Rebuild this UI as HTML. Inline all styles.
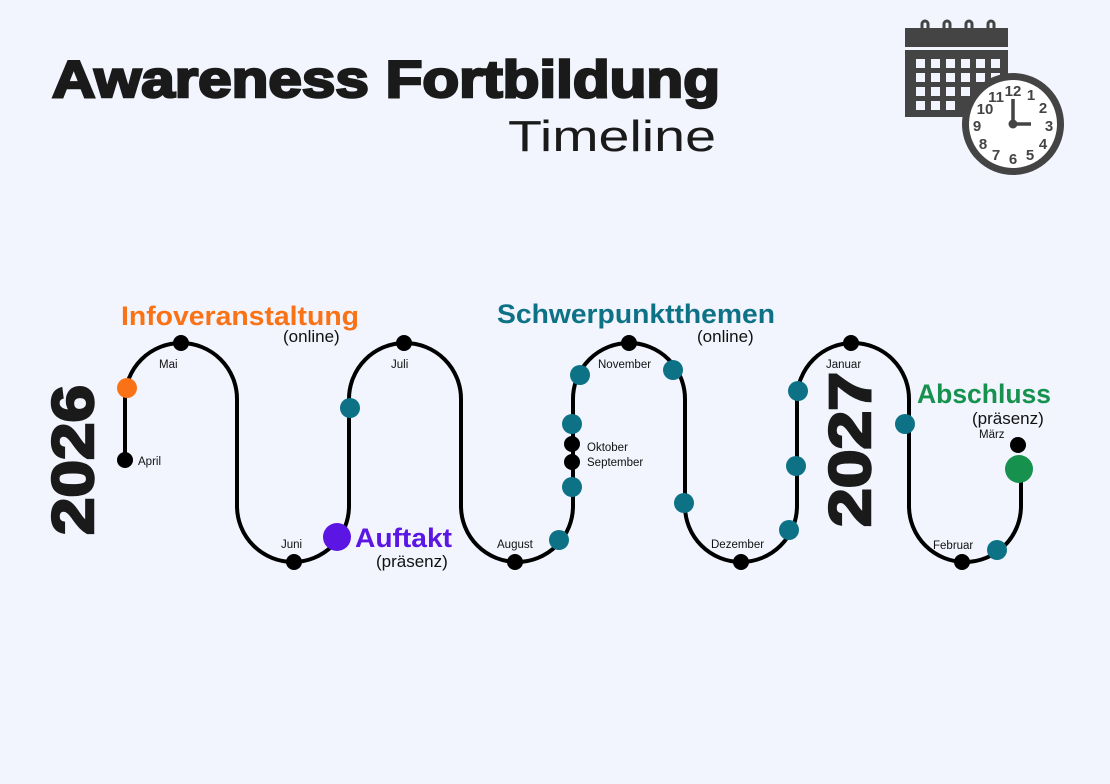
<!DOCTYPE html>
<html><head><meta charset="utf-8"><style>
html,body{margin:0;padding:0;background:#f2f5fe;}
svg{display:block}
</style></head><body>
<svg width="1110" height="784" viewBox="0 0 1110 784" xmlns="http://www.w3.org/2000/svg" font-family="Liberation Sans, sans-serif">
<rect width="1110" height="784" fill="#f2f5fe"/>
<text x="52" y="97" font-size="52" font-weight="900" fill="#1a1a1a" textLength="668" lengthAdjust="spacingAndGlyphs" stroke="#1a1a1a" stroke-width="2.5">Awareness Fortbildung</text>
<text x="716" y="151" font-size="44" fill="#1a1a1a" text-anchor="end" textLength="208" lengthAdjust="spacingAndGlyphs">Timeline</text>

<!-- calendar icon -->
<g fill="#444">
<rect x="905" y="28" width="103" height="19"/>
<rect x="905" y="50" width="103" height="67"/>
<g fill="none" stroke="#444" stroke-width="3">
<path d="M922 36 V24 a3 3 0 0 1 6 0 V36"/>
<path d="M944 36 V24 a3 3 0 0 1 6 0 V36"/>
<path d="M966 36 V24 a3 3 0 0 1 6 0 V36"/>
<path d="M988 36 V24 a3 3 0 0 1 6 0 V36"/>
</g>
<g fill="#f2f5fe">
<rect x="916" y="59" width="9" height="9"/><rect x="931" y="59" width="9" height="9"/><rect x="946" y="59" width="9" height="9"/><rect x="961" y="59" width="9" height="9"/><rect x="976" y="59" width="9" height="9"/><rect x="991" y="59" width="9" height="9"/>
<rect x="916" y="73" width="9" height="9"/><rect x="931" y="73" width="9" height="9"/><rect x="946" y="73" width="9" height="9"/><rect x="961" y="73" width="9" height="9"/><rect x="976" y="73" width="9" height="9"/><rect x="991" y="73" width="9" height="9"/>
<rect x="916" y="87" width="9" height="9"/><rect x="931" y="87" width="9" height="9"/><rect x="946" y="87" width="9" height="9"/><rect x="961" y="87" width="9" height="9"/>
<rect x="916" y="101" width="9" height="9"/><rect x="931" y="101" width="9" height="9"/><rect x="946" y="101" width="9" height="9"/>
</g>
</g>
<circle cx="1013" cy="124" r="51" fill="#444"/>
<circle cx="1013" cy="124" r="44" fill="#fff"/>
<g font-size="15" font-weight="bold" fill="#444" text-anchor="middle">
<text x="1013" y="96">12</text><text x="1031" y="100">1</text><text x="1043" y="113">2</text><text x="1049" y="131">3</text><text x="1043" y="149">4</text><text x="1030" y="160">5</text>
<text x="1013" y="164">6</text><text x="996" y="160">7</text><text x="983" y="149">8</text><text x="977" y="131">9</text><text x="985" y="114">10</text><text x="996" y="102">11</text>
</g>
<path d="M1013 124 V99 M1013 124 H1031" stroke="#444" stroke-width="3.5"/>
<circle cx="1013" cy="124" r="4.5" fill="#444"/>

<!-- path -->
<path d="M125 460 V399 A56 56 0 0 1 237 399 V506 A56 56 0 0 0 349 506 V399 A56 56 0 0 1 461 399 V506 A56 56 0 0 0 573 506 V399 A56 56 0 0 1 685 399 V506 A56 56 0 0 0 797 506 V399 A56 56 0 0 1 909 399 V506 A56 56 0 0 0 1021 506 V468" fill="none" stroke="#000" stroke-width="4"/>

<g fill="#000">
<circle cx="125" cy="460" r="8"/><circle cx="181" cy="343" r="8"/><circle cx="294" cy="562" r="8"/><circle cx="404" cy="343" r="8"/>
<circle cx="515" cy="562" r="8"/><circle cx="629" cy="343" r="8"/><circle cx="572" cy="444" r="8"/><circle cx="572" cy="462" r="8"/>
<circle cx="741" cy="562" r="8"/><circle cx="851" cy="343" r="8"/><circle cx="962" cy="562" r="8"/><circle cx="1018" cy="445" r="8"/>
</g>
<circle cx="127" cy="388" r="10" fill="#f97316"/>
<circle cx="337" cy="537" r="14" fill="#5b16e4"/>
<circle cx="1019" cy="469" r="14" fill="#16924e"/>
<g fill="#0e7286">
<circle cx="350" cy="408" r="10"/><circle cx="580" cy="375" r="10"/><circle cx="572" cy="424" r="10"/><circle cx="572" cy="487" r="10"/><circle cx="559" cy="540" r="10"/>
<circle cx="673" cy="370" r="10"/><circle cx="684" cy="503" r="10"/><circle cx="798" cy="391" r="10"/><circle cx="796" cy="466" r="10"/><circle cx="789" cy="530" r="10"/>
<circle cx="905" cy="424" r="10"/><circle cx="997" cy="550" r="10"/>
</g>

<g font-size="11.5" fill="#111">
<text x="138" y="465">April</text><text x="159" y="368">Mai</text><text x="281" y="548">Juni</text><text x="391" y="368">Juli</text>
<text x="497" y="548">August</text><text x="598" y="368">November</text><text x="587" y="451">Oktober</text><text x="587" y="466">September</text>
<text x="711" y="548">Dezember</text><text x="826" y="368">Januar</text><text x="933" y="549">Februar</text><text x="979" y="438">März</text>
</g>

<g font-weight="bold" font-size="27">
<text x="121" y="325" fill="#f97316" textLength="238" lengthAdjust="spacingAndGlyphs">Infoveranstaltung</text>
<text x="355" y="547" fill="#5b16e4" textLength="97" lengthAdjust="spacingAndGlyphs">Auftakt</text>
<text x="497" y="323" fill="#0e7286" textLength="278" lengthAdjust="spacingAndGlyphs">Schwerpunktthemen</text>
<text x="917" y="403" fill="#16924e" textLength="134" lengthAdjust="spacingAndGlyphs">Abschluss</text>
</g>
<g font-size="17" fill="#111">
<text x="283" y="342">(online)</text>
<text x="376" y="567">(präsenz)</text>
<text x="697" y="342">(online)</text>
<text x="972" y="424">(präsenz)</text>
</g>

<text transform="translate(93,535) rotate(-90)" font-size="58" font-weight="900" fill="#1a1a1a" textLength="150" lengthAdjust="spacingAndGlyphs" stroke="#1a1a1a" stroke-width="2.5">2026</text>
<text transform="translate(870,527) rotate(-90)" font-size="58" font-weight="900" fill="#1a1a1a" textLength="155" lengthAdjust="spacingAndGlyphs" stroke="#1a1a1a" stroke-width="2.5">2027</text>
</svg>
</body></html>
